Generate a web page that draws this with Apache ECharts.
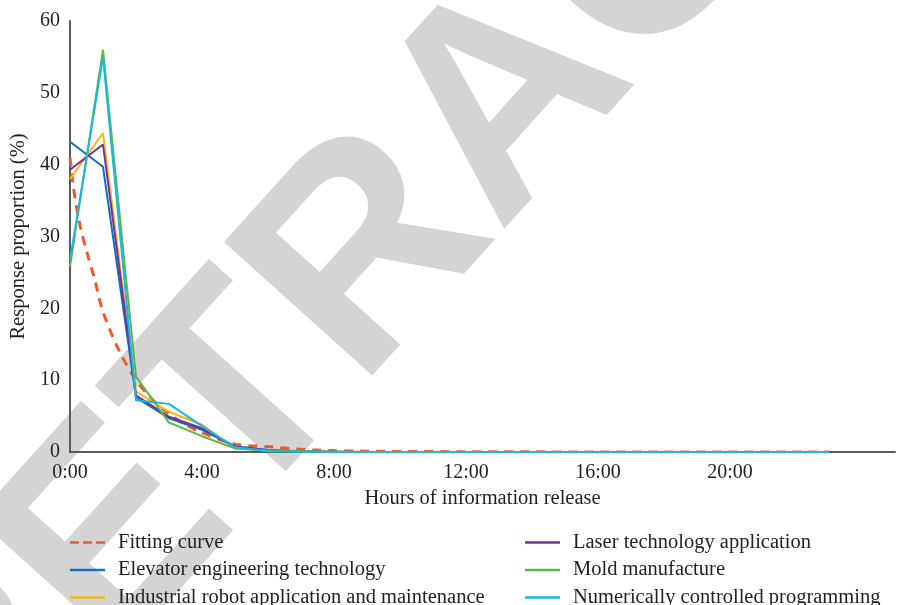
<!DOCTYPE html>
<html>
<head>
<meta charset="utf-8">
<script src="https://cdn.jsdelivr.net/npm/echarts@6/dist/echarts.min.js"></script>
<style>
  html, body { margin: 0; padding: 0; background: #fff; }
  #main { width: 897px; height: 605px; }
</style>
</head>
<body>
<div id="main"></div>
<script>
  // hours 0..23
  const hours = [0, 1, 2, 3, 4, 5, 6, 7, 8, 9, 10, 11, 12, 13, 14, 15, 16, 17, 18, 19, 20, 21, 22, 23];
  const elevator = [43.2, 39.7, 7.6, 4.7, 3.1, 0.8, 0.3, 0.1, 0.05, 0, 0, 0, 0, 0, 0, 0, 0, 0, 0, 0, 0, 0, 0, 0];
  const industrial = [38.0, 44.4, 8.4, 5.6, 3.8, 0.5, 0.2, 0.1, 0.05, 0, 0, 0, 0, 0, 0, 0, 0, 0, 0, 0, 0, 0, 0, 0];
  const laser = [39.3, 42.8, 7.9, 4.9, 3.3, 0.7, 0.2, 0.1, 0.05, 0, 0, 0, 0, 0, 0, 0, 0, 0, 0, 0, 0, 0, 0, 0];
  const mold = [25.8, 56.0, 10.5, 4.1, 2.2, 0.5, 0.2, 0.1, 0.05, 0, 0, 0, 0, 0, 0, 0, 0, 0, 0, 0, 0, 0, 0, 0];
  const numerical = [26.7, 55.0, 7.2, 6.7, 3.6, 0.65, 0.1, 0.05, 0, 0, 0, 0, 0, 0, 0, 0, 0, 0, 0, 0, 0, 0, 0, 0];

  // fitted curve, read at finer steps near the start
  const fitHours = [0, 0.1, 0.2, 0.33, 0.5, 0.75, 1, 1.5, 2, 2.5, 3, 3.5, 4, 5, 6, 7, 8, 9, 10, 12, 14, 16, 18, 20, 23];
  const fitValues = [41, 37, 34, 31, 28, 24, 19.5, 14, 10, 7.3, 5.3, 3.8, 2.7, 1.1, 0.75, 0.37, 0.2, 0.12, 0.08, 0.04, 0.02, 0.01, 0, 0, 0];

  const seriesNames = ['Fitting curve', 'Elevator engineering technology', 'Industrial robot application and maintenance',
    'Laser technology application', 'Mold manufacture', 'Numerically controlled programming'];
  const xTicks = ['0:00', '4:00', '8:00', '12:00', '16:00', '20:00'];

  const font = '"Liberation Serif", "DejaVu Serif", serif';
  const textColor = '#231f20';
  const solidIcon = 'path://M0,0H35V2H0Z';
  const dashIcon = 'path://M0,0H9V2H0ZM13,0H22V2H13ZM26,0H35V2H26Z';
  const pair = (xs, ys) => xs.map((x, i) => [x, ys[i]]);

  function line(name, data, color) {
    return {
      name: name,
      type: 'line',
      data: pair(hours, data),
      symbol: 'none',
      lineStyle: {color: color, width: 2},
      itemStyle: {color: color},
      z: 3
    };
  }

  function legendBlock(left, names) {
    return {
      orient: 'vertical',
      left: left, top: 532, height: 100,
      padding: 0,
      itemWidth: 35, itemHeight: 2.5, itemGap: 6.5,
      symbolKeepAspect: false,
      textStyle: {fontFamily: font, fontSize: 20.5, color: textColor, lineHeight: 20, padding: [0, 0, 0, 8]},
      data: names.map(n => ({name: n, icon: n === seriesNames[0] ? dashIcon : solidIcon}))
    };
  }

  const myChart = echarts.init(document.getElementById('main'));
  const option = {
    backgroundColor: '#fff',
    animation: false,
    textStyle: {fontFamily: font},
    graphic: [{
      type: 'text',
      x: 510, y: 103,
      rotation: 48 * Math.PI / 180,
      z: -10,
      silent: true,
      style: {
        text: 'RETRACTED',
        font: 'bold 290px "Liberation Sans", Arial, sans-serif',
        fill: '#d4d4d4',
        align: 'center',
        verticalAlign: 'middle'
      }
    }],
    grid: {left: 70, right: 2, top: 21, bottom: 153, outerBoundsMode: 'none'},
    legend: [legendBlock(70, seriesNames.slice(0, 3)), legendBlock(525, seriesNames.slice(3))],
    xAxis: {
      type: 'value',
      min: 0, max: 25, interval: 4,
      name: 'Hours of information release',
      nameLocation: 'middle',
      nameGap: 36,
      nameTextStyle: {fontFamily: font, fontSize: 20.5, color: textColor},
      axisLine: {show: true, lineStyle: {color: '#5a5a5a', width: 2}},
      axisTick: {show: false},
      splitLine: {show: false},
      axisLabel: {
        fontFamily: font, fontSize: 20, color: textColor, margin: 11,
        showMaxLabel: false,
        formatter: v => xTicks[v / 4] || ''
      }
    },
    yAxis: {
      type: 'value',
      min: 0, max: 60, interval: 10,
      name: 'Response proportion (%)',
      nameLocation: 'middle',
      nameGap: 37,
      nameTextStyle: {fontFamily: font, fontSize: 20.5, color: textColor},
      axisLine: {show: true, lineStyle: {color: '#5a5a5a', width: 2}},
      axisTick: {show: false},
      splitLine: {show: false},
      axisLabel: {fontFamily: font, fontSize: 20, color: textColor, margin: 10}
    },
    series: [
      {
        name: seriesNames[0],
        type: 'line',
        data: pair(fitHours, fitValues),
        symbol: 'none',
        smooth: 0.3,
        lineStyle: {color: '#f15a29', width: 3, type: [9, 7]},
        itemStyle: {color: '#f15a29'},
        z: 2
      },
      line(seriesNames[1], elevator, '#0a72c0'),
      line(seriesNames[2], industrial, '#fdb515'),
      line(seriesNames[3], laser, '#7a2f9b'),
      line(seriesNames[4], mold, '#5cb946'),
      line(seriesNames[5], numerical, '#18b7e4')
    ]
  };
  myChart.setOption(option);
  window.onresize = function () {
    myChart.resize();
  };
</script>
</body>
</html>
